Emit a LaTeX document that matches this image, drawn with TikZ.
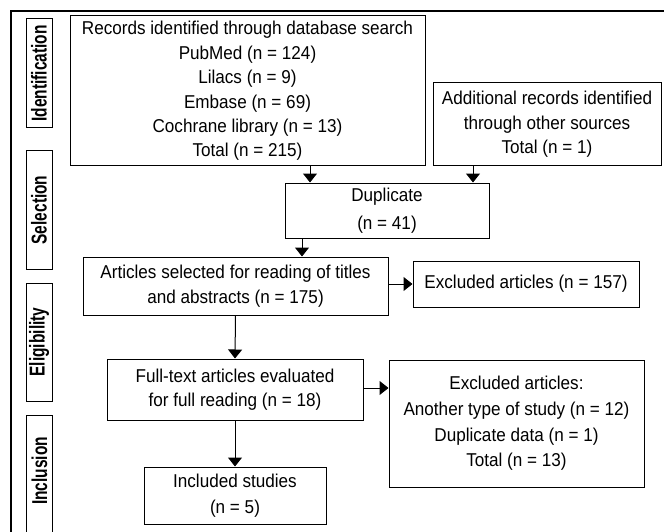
\documentclass[tikz,border=0pt]{standalone}
\usepackage{fontspec}
\setmainfont[FakeStretch=0.92]{Liberation Sans}
\newfontfamily\lblfont[FakeStretch=0.72]{Liberation Sans}
\usetikzlibrary{arrows.meta}
\tikzset{
  box/.style={draw=black, line width=1pt, rectangle, inner sep=0pt, align=center,
    font=\fontsize{18.6}{24.4}\selectfont},
  lblbox/.style={draw=black, line width=1pt, rectangle, inner sep=0pt, rotate=90,
    minimum height=26pt, font=\lblfont\bfseries\fontsize{21.5}{24}\selectfont},
  lbltext/.style={inner sep=0pt, rotate=90, font=\lblfont\bfseries\fontsize{21.5}{24}\selectfont},
  arr/.style={line width=1pt, -{Triangle[width=14pt,length=9pt]}},
}
\begin{document}
\begin{tikzpicture}[x=1pt,y=-1pt]
\useasboundingbox (0,0) rectangle (664,532);
\fill[white] (0,0) rectangle (664,532);
% outer frame
\draw[line width=1.2pt] (11,540) -- (11,11) -- (670,11);
% phase labels
\node[lblbox, minimum width=109pt] (lid) at (39,73.5) {Identification};
\node[lblbox, minimum width=118pt] (lsel) at (39,210) {Selection};
\node[lblbox, minimum width=118pt] (lelig) at (39,342) {Eligibility};
\draw[line width=1pt] (26,540) -- (26,415) -- (52,415) -- (52,540);
\node[lbltext] (lincl) at (39.5,471) {Inclusion};
% boxes
\node[box, minimum width=355pt, minimum height=150pt] (rec) at (247.5,91)
  {Records identified through database search\\PubMed (n = 124)\\Lilacs (n = 9)\\Embase (n = 69)\\Cochrane library (n = 13)\\Total (n = 215)};
\node[box, minimum width=228pt, minimum height=83pt] (add) at (547,124.5)
  {Additional records identified\\through other sources\\Total (n = 1)};
\node[box, minimum width=204pt, minimum height=55pt, font=\fontsize{18.6}{28}\selectfont] (dup) at (387,210.5)
  {Duplicate\\(n = 41)};
\node[box, minimum width=305pt, minimum height=58pt] (art) at (235.5,286)
  {Articles selected for reading of titles\\and abstracts (n = 175)};
\node[box, minimum width=226pt, minimum height=46pt] (ex1) at (526,284)
  {Excluded articles (n = 157)};
\node[box, minimum width=256pt, minimum height=61pt] (full) at (235,389.5)
  {Full-text articles evaluated\\for full reading (n = 18)};
\node[box, minimum width=255pt, minimum height=127pt, font=\fontsize{18.6}{25.6}\selectfont] (ex2) at (516.5,423.5)
  {Excluded articles:\\Another type of study (n = 12)\\Duplicate data (n = 1)\\Total (n = 13)};
\node[box, minimum width=182pt, minimum height=57pt, font=\fontsize{18.6}{26}\selectfont] (inc) at (235,495.5)
  {Included studies\\(n = 5)};
% arrows
\draw[arr] ([xshift=62.5pt]rec.south) -- ([xshift=62.5pt]rec.south |- dup.north);
\draw[arr] ([xshift=-74pt]add.south) -- ([xshift=-74pt]add.south |- dup.north);
\draw[arr] ([xshift=-85pt]dup.south) -- ([xshift=-85pt]dup.south |- art.north);
\draw[arr] (ex1.west -| art.east) -- (ex1.west);
\draw[arr] (art.south) -- (full.north);
\draw[arr] ([yshift=1.5pt]full.east) -- ([yshift=1.5pt]full.east -| ex2.west);
\draw[arr] (full.south) -- (inc.north);
\end{tikzpicture}
\end{document}
